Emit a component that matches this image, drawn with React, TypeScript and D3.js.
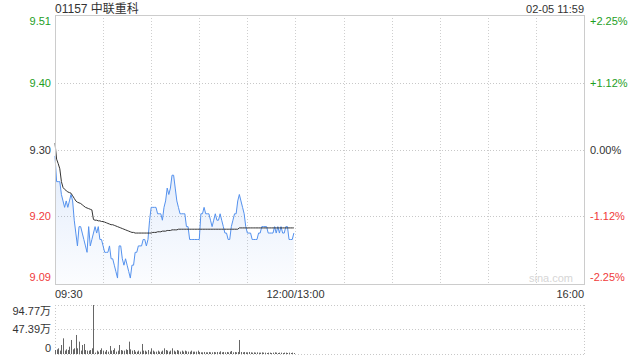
import React from "react";
import * as d3 from "d3";

const title = "01157 中联重科";
const stamp = "02-05 11:59";
const prevClose = 9.3;
const pctTicks = [2.25, 1.12, 0, -1.12, -2.25];
const priceLabels = ["9.51", "9.40", "9.30", "9.20", "9.09"];
const pctLabels = ["+2.25%", "+1.12%", "0.00%", "-1.12%", "-2.25%"];
const timeTickMinutes = [0, 150, 330];
const timeLabels = ["09:30", "12:00/13:00", "16:00"];
const volTicks = [94.77, 47.39, 0];
const volLabels = ["94.77万", "47.39万", "0"];

// one value per minute from 09:30 to 11:59
const price = [
  9.29, 9.25, 9.25, 9.25, 9.23, 9.22, 9.21, 9.22, 9.21, 9.22,
  9.23, 9.22, 9.19, 9.17, 9.15, 9.18, 9.18, 9.17, 9.16, 9.15,
  9.14, 9.18, 9.15, 9.16, 9.17, 9.18, 9.17, 9.18, 9.16, 9.16,
  9.15, 9.14, 9.14, 9.14, 9.15, 9.13, 9.13, 9.12, 9.11, 9.10,
  9.15, 9.15, 9.13, 9.12, 9.13, 9.12, 9.11, 9.10, 9.12, 9.12,
  9.14, 9.14, 9.15, 9.15, 9.15, 9.16, 9.16, 9.15, 9.16, 9.19,
  9.21, 9.21, 9.21, 9.21, 9.20, 9.20, 9.20, 9.19, 9.21, 9.22,
  9.24, 9.23, 9.24, 9.26, 9.26, 9.24, 9.22, 9.21, 9.20, 9.20,
  9.20, 9.20, 9.18, 9.18, 9.16, 9.16, 9.16, 9.16, 9.16, 9.16,
  9.16, 9.20, 9.20, 9.21, 9.20, 9.20, 9.20, 9.19, 9.18, 9.19,
  9.20, 9.19, 9.19, 9.20, 9.19, 9.18, 9.17, 9.17, 9.16, 9.16,
  9.18, 9.19, 9.20, 9.20, 9.22, 9.23, 9.22, 9.21, 9.20, 9.18,
  9.17, 9.17, 9.17, 9.16, 9.16, 9.16, 9.16, 9.17, 9.17, 9.18,
  9.18, 9.18, 9.18, 9.17, 9.17, 9.17, 9.17, 9.18, 9.17, 9.18,
  9.17, 9.18, 9.17, 9.17, 9.18, 9.18, 9.16, 9.16, 9.16, 9.17,
];

const avgPrice = [
  9.31, 9.285, 9.278, 9.27, 9.25, 9.241, 9.238, 9.236, 9.234, 9.233,
  9.232, 9.228, 9.224, 9.22, 9.218, 9.217, 9.216, 9.214, 9.212, 9.21,
  9.209, 9.208, 9.207, 9.206, 9.191, 9.19, 9.19, 9.189, 9.189, 9.188,
  9.188, 9.187, 9.186, 9.185, 9.184, 9.183, 9.183, 9.182, 9.181, 9.18,
  9.179, 9.178, 9.177, 9.176, 9.175, 9.174, 9.173, 9.172, 9.171, 9.171,
  9.17, 9.17, 9.17, 9.17, 9.17, 9.17, 9.17, 9.17, 9.17, 9.17,
  9.17, 9.171, 9.171, 9.171, 9.172, 9.172, 9.172, 9.173, 9.173, 9.173,
  9.174, 9.174, 9.174, 9.175, 9.175, 9.175, 9.175, 9.176, 9.176, 9.176,
  9.176, 9.176, 9.176, 9.176, 9.176, 9.176, 9.176, 9.176, 9.176, 9.176,
  9.176, 9.176, 9.176, 9.176, 9.176, 9.176, 9.176, 9.176, 9.176, 9.176,
  9.176, 9.176, 9.176, 9.176, 9.176, 9.176, 9.176, 9.176, 9.176, 9.176,
  9.176, 9.176, 9.176, 9.176, 9.176, 9.178, 9.178, 9.178, 9.178, 9.178,
  9.178, 9.178, 9.178, 9.178, 9.178, 9.178, 9.178, 9.178, 9.178, 9.178,
  9.178, 9.178, 9.178, 9.178, 9.178, 9.178, 9.178, 9.178, 9.178, 9.178,
  9.178, 9.178, 9.178, 9.178, 9.178, 9.178, 9.178, 9.178, 9.178, 9.178,
];

// volume per minute, in 万
const volume = [
  7.7, 9.0, 11.0, 6.5, 17.4, 30.3, 6.5, 9.0, 7.7, 14.2,
  27.1, 9.0, 11.0, 36.8, 11.0, 23.9, 6.5, 17.4, 19.4, 7.7,
  6.5, 6.5, 7.7, 11.0, 94.77, 2.6, 6.5, 4.5, 7.7, 11.0,
  6.5, 4.5, 7.7, 4.5, 15.5, 6.5, 7.7, 11.0, 4.5, 6.5,
  17.4, 7.7, 6.5, 6.5, 9.0, 7.7, 23.9, 9.0, 6.5, 7.7,
  4.5, 4.5, 6.5, 4.5, 19.4, 6.5, 6.5, 4.5, 7.7, 4.5,
  11.0, 6.5, 4.5, 4.5, 6.5, 4.5, 4.5, 6.5, 11.0, 7.7,
  6.5, 4.5, 6.5, 11.0, 6.5, 4.5, 7.7, 6.5, 4.5, 6.5,
  4.5, 6.5, 5.2, 4.5, 4.5, 6.5, 4.5, 4.5, 4.5, 6.5,
  3.9, 3.2, 3.2, 3.9, 3.2, 3.2, 3.9, 3.2, 3.2, 3.9,
  3.2, 3.9, 3.2, 5.2, 3.2, 3.9, 3.2, 3.9, 3.2, 4.5,
  5.8, 3.2, 3.9, 3.2, 3.9, 27.1, 3.9, 3.2, 3.9, 3.2,
  3.2, 3.9, 3.2, 2.6, 3.2, 2.6, 3.2, 2.6, 2.6, 3.2,
  2.6, 2.6, 1.9, 2.6, 2.6, 1.9, 2.6, 3.2, 2.6, 1.9,
  2.6, 2.6, 1.9, 2.6, 2.6, 1.9, 2.6, 1.9, 2.6, 1.9,
];

const W = 640;
const H = 360;
const L = 55;
const R = 584;
const T = 15;
const B = 284;
const VT = 305;
const VB = 354;
const GREEN = "#1e9e1e";
const RED = "#f03b3b";
const NEUTRAL = "#333";
const FONT = '"Liberation Sans", Arial, "Noto Sans CJK SC", sans-serif';

export default function App() {
  const x = d3.scaleLinear().domain([0, 330]).range([L, R]);
  const yPct = d3.scaleLinear().domain([-2.25, 2.25]).range([B, T]);
  const y = d3
    .scaleLinear()
    .domain([prevClose * (1 - 0.0225), prevClose * (1 + 0.0225)])
    .range([B, T]);
  const yv = d3.scaleLinear().domain([0, 94.77]).range([VB, VT]);

  const line = d3
    .line<number>()
    .x((_, i) => x(i))
    .y((d) => y(d));
  const area = d3
    .area<number>()
    .x((_, i) => x(i))
    .y0(B)
    .y1((d) => y(d));

  const colorOf = (p: number) => (p > 0 ? GREEN : p < 0 ? RED : NEUTRAL);
  const vGrid = d3.range(1, 11).map((k) => x(k * 30));

  const labelY = (i: number, yy: number) =>
    i === 0 ? yy + 10 : i === pctTicks.length - 1 ? yy - 3 : yy + 4;

  return (
    <svg
      width={W}
      height={H}
      style={{ position: "absolute", left: 0, top: 0, fontFamily: FONT }}
    >
      <defs>
        <linearGradient id="fillG" x1="0" y1="0" x2="0" y2="1">
          <stop offset="0%" stopColor="#4a86e8" stopOpacity={0.16} />
          <stop offset="100%" stopColor="#4a86e8" stopOpacity={0.02} />
        </linearGradient>
      </defs>
      <rect width={W} height={H} fill="#fff" />

      <text x={L} y={12.5} fontSize={12} fill={NEUTRAL}>
        {title}
      </text>
      <text x={R} y={12.5} fontSize={11} fill={NEUTRAL} textAnchor="end">
        {stamp}
      </text>

      {/* grid */}
      {vGrid.map((gx, i) => (
        <line
          key={"vg" + i}
          x1={Math.round(gx) + 0.5}
          x2={Math.round(gx) + 0.5}
          y1={T}
          y2={B}
          stroke="#cfcfcf"
          strokeDasharray="1,2"
        />
      ))}
      {pctTicks.slice(1, 4).map((p, i) => (
        <line
          key={"hg" + i}
          x1={L}
          x2={R}
          y1={Math.round(yPct(p)) + 0.5}
          y2={Math.round(yPct(p)) + 0.5}
          stroke="#c8c8c8"
          strokeDasharray="1,2"
        />
      ))}

      <text x={573} y={282} fontSize={11} fill="#d6d6d6" textAnchor="end">
        sina.com
      </text>

      {/* price area & lines */}
      <path d={area(price) || ""} fill="url(#fillG)" />
      <path d={line(price) || ""} fill="none" stroke="#5592ee" strokeWidth={1} />
      <path d={line(avgPrice) || ""} fill="none" stroke="#333" strokeWidth={1} />

      <rect
        x={L + 0.5}
        y={T + 0.5}
        width={R - L}
        height={B - T}
        fill="none"
        stroke="#cccccc"
      />

      {/* left / right labels */}
      {pctTicks.map((p, i) => (
        <g key={"pl" + i}>
          <text
            x={51}
            y={labelY(i, yPct(p))}
            fontSize={11}
            fill={colorOf(p)}
            textAnchor="end"
          >
            {priceLabels[i]}
          </text>
          <text x={590} y={labelY(i, yPct(p))} fontSize={11} fill={colorOf(p)}>
            {pctLabels[i]}
          </text>
        </g>
      ))}

      {/* time labels */}
      {timeTickMinutes.map((m, i) => (
        <text
          key={"tl" + i}
          x={x(m)}
          y={298}
          fontSize={11}
          fill={NEUTRAL}
          textAnchor={i === 0 ? "start" : i === timeTickMinutes.length - 1 ? "end" : "middle"}
        >
          {timeLabels[i]}
        </text>
      ))}

      {/* volume panel */}
      {volTicks.map((v, i) => (
        <line
          key={"vl" + i}
          x1={L}
          x2={R}
          y1={Math.round(yv(v)) + 0.5}
          y2={Math.round(yv(v)) + 0.5}
          stroke="#c8c8c8"
          strokeDasharray="1,2"
        />
      ))}
      <line x1={R + 0.5} x2={R + 0.5} y1={VT} y2={VB} stroke="#c8c8c8" strokeDasharray="1,2" />
      <line x1={L + 0.5} x2={L + 0.5} y1={VT} y2={VB} stroke="#c8c8c8" strokeDasharray="1,2" />
      {volume.map((v, i) => (
        <line
          key={"vb" + i}
          x1={Math.round(x(i)) + 0.5}
          x2={Math.round(x(i)) + 0.5}
          y1={VB}
          y2={yv(v)}
          stroke="#666"
          strokeWidth={1}
        />
      ))}
      {volTicks.map((v, i) => (
        <text
          key={"vt" + i}
          x={51}
          y={i === 0 ? yv(v) + 10 : i === volTicks.length - 1 ? yv(v) - 2 : yv(v) + 4}
          fontSize={11}
          fill={NEUTRAL}
          textAnchor="end"
        >
          {volLabels[i]}
        </text>
      ))}
    </svg>
  );
}
